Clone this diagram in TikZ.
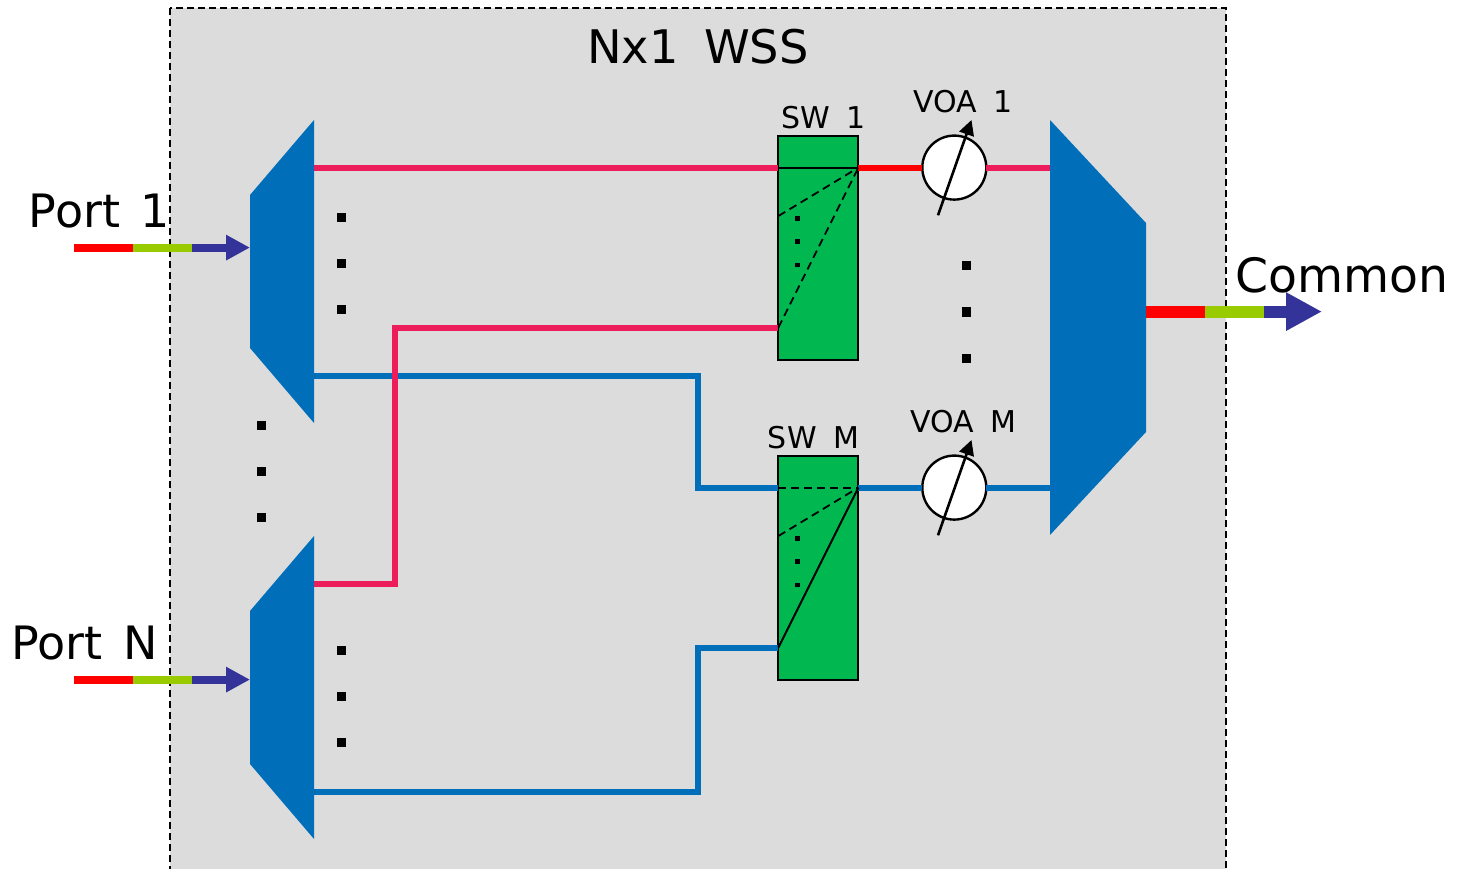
\documentclass[tikz,border=0pt]{standalone}
\usepackage{fontspec}
\setmainfont{DejaVu Sans}
\usetikzlibrary{arrows.meta}
\definecolor{panelgray}{HTML}{DCDCDC}
\definecolor{muxblue}{HTML}{006EB9}
\definecolor{fibpink}{HTML}{ED1C5B}
\definecolor{fibred}{HTML}{FF0000}
\definecolor{fibgreen}{HTML}{99CC00}
\definecolor{fibviolet}{HTML}{333399}
\definecolor{swgreen}{HTML}{00B84F}
\tikzset{
  x=1pt,y=-1pt,
  mux/.style={fill=muxblue,draw=none},
  pinkfib/.style={draw=fibpink,line width=6pt},
  bluefib/.style={draw=muxblue,line width=6pt},
  swbox/.style={draw=black,line width=2pt,fill=swgreen,minimum width=80pt,minimum height=224pt,inner sep=0pt,outer sep=0pt},
  voa/.style={circle,draw=black,line width=2.4pt,fill=white,minimum size=64pt,inner sep=0pt,outer sep=0pt},
  voaarrow/.style={draw=black,line width=2.6pt,-{Triangle[length=15pt,width=15pt]}},
  bigdot/.style={fill=black,inner sep=0pt,minimum size=9pt},
  smalldot/.style={fill=black,inner sep=0pt,minimum size=4.5pt},
  inner/.style={draw=black,line width=2pt},
  innerd/.style={draw=black,line width=1.8pt,dash pattern=on 8pt off 5pt},
  lblbig/.style={font=\fontsize{46.3}{46}\selectfont,inner sep=0pt,text=black},
  lblmid/.style={font=\fontsize{46}{46}\selectfont,inner sep=0pt,text=black},
  lblcom/.style={font=\fontsize{47.3}{47}\selectfont,inner sep=0pt,text=black},
  lblsm/.style={font=\fontsize{30}{30}\selectfont,inner sep=0pt,text=black},
}
\newcommand{\gapw}{\hspace{0.55em}}
\newcommand{\gapn}{\hspace{0.45em}}
\begin{document}
\begin{tikzpicture}
\useasboundingbox (0,0) rectangle (1460,869);
\begin{scope}
\clip (0,0) rectangle (1460,869);
\draw[fill=panelgray,draw=black,line width=1.5pt,dash pattern=on 7pt off 4pt] (170,8) rectangle (1226,900);
\end{scope}
\node[lblbig,anchor=center] (title) at (698,47) {Nx1\gapw WSS};

% coordinates
\coordinate (d1o1) at (314,167.6);
\coordinate (d1o2) at (314,375.6);
\coordinate (dNo1) at (314,583.6);
\coordinate (dNo2) at (314,791.6);
\coordinate (d1i) at (250,247.6);
\coordinate (dNi) at (250,679.6);
\coordinate (mi1) at (1050,167.6);
\coordinate (miM) at (1050,487.6);
\coordinate (mo) at (1146,311.6);
\coordinate (p1s) at (74,247.6);
\coordinate (p1a) at (133,247.6);
\coordinate (p1b) at (192,247.6);
\coordinate (pNs) at (74,679.6);
\coordinate (pNa) at (133,679.6);
\coordinate (pNb) at (192,679.6);
\coordinate (ca) at (1205,311.6);
\coordinate (cb) at (1264,311.6);
\coordinate (ce) at (1322,311.6);

\node[swbox] (sw1) at (818.4,247.8) {};
\node[swbox] (swM) at (818.4,567.8) {};
\node[voa] (voa1) at (954.3,167.6) {};
\node[voa] (voaM) at (954.3,487.6) {};

\coordinate (s1a) at (778.4,167.6);
\coordinate (s1b) at (778.4,327.6);
\coordinate (s1c) at (778.4,216);
\coordinate (s1o) at (858.4,167.6);
\coordinate (sMa) at (778.4,487.6);
\coordinate (sMb) at (778.4,647.6);
\coordinate (sMc) at (778.4,536);
\coordinate (sMo) at (858.4,487.6);

% fibres
\draw[bluefib] (d1o2) -- (698,375.6) -- (698,487.6) -- (sMa);
\draw[bluefib] (dNo2) -- (698,791.6) -- (698,647.6) -- (sMb);
\draw[pinkfib] (d1o1) -- (s1a);
\draw[pinkfib] (dNo1) -- (394.5,583.6) -- (394.5,327.6) -- (s1b);
\draw[line width=6pt,draw=fibred] (s1o) -- (voa1.west);
\draw[pinkfib] (voa1.east) -- (mi1);
\draw[bluefib] (sMo) -- (voaM.west);
\draw[bluefib] (voaM.east) -- (miM);

% multiplexers
\fill[mux] (250,195) -- (314,120) -- (314,423) -- (250,348) -- cycle;
\fill[mux] (250,611) -- (314,536) -- (314,839) -- (250,764) -- cycle;
\fill[mux] (1050,120) -- (1146,223) -- (1146,432) -- (1050,535) -- cycle;

% switch internals
\draw[inner] (s1a) -- (s1o);
\draw[innerd] (s1c) -- (s1o);
\draw[innerd] (s1b) -- (s1o);
\draw[innerd] (sMa) -- (sMo);
\draw[innerd] (sMc) -- (sMo);
\draw[inner] (sMb) -- (sMo);

% VOA pointers
\coordinate (v1s) at (938,215.3);
\coordinate (v1e) at (971.5,120);
\coordinate (vMs) at (938,535.3);
\coordinate (vMe) at (971.5,440);
\draw[voaarrow] (v1s) -- (v1e);
\draw[voaarrow] (vMs) -- (vMe);

% port arrows
\draw[line width=8pt,draw=fibred] (p1s) -- (p1a);
\draw[line width=8pt,draw=fibgreen] (p1a) -- (p1b);
\draw[line width=8pt,draw=fibviolet,-{Triangle[length=24pt,width=24pt]}] (p1b) -- (d1i);
\draw[line width=8pt,draw=fibred] (pNs) -- (pNa);
\draw[line width=8pt,draw=fibgreen] (pNa) -- (pNb);
\draw[line width=8pt,draw=fibviolet,-{Triangle[length=24pt,width=24pt]}] (pNb) -- (dNi);
\draw[line width=12pt,draw=fibred] (mo) -- (ca);
\draw[line width=12pt,draw=fibgreen] (ca) -- (cb);
\draw[line width=12pt,draw=fibviolet,-{Triangle[length=36pt,width=36pt]}] (cb) -- (ce);

% dots
\foreach \n/\px/\py in {a/341/217.5,b/341/263.5,c/341/309.5,d/341/650,e/341/696,f/341/742,g/261/425,h/261/471,i/261/517,j/966.5/266,k/966.5/312,l/966.5/358}
  \node[bigdot] (dot\n) at (\px,\py) {};
\foreach \n/\py in {a/218.5,b/241.5,c/265,d/538.5,e/561.5,f/585}
  \node[smalldot] (sdot\n) at (797.3,\py) {};

% labels
\node[lblmid,anchor=center] (lp1) at (99.5,211) {Port\gapn 1};
\node[lblmid,anchor=center] (lpN) at (84.5,643) {Port\gapn N};
\node[lblcom,anchor=center] (lc) at (1342,275) {Common};
\node[lblsm,anchor=center] (ls1) at (823.5,118) {SW\gapw 1};
\node[lblsm,anchor=center] (lsM) at (813.5,438) {SW\gapw M};
\node[lblsm,anchor=center] (lv1) at (963.5,102) {VOA\gapw 1};
\node[lblsm,anchor=center] (lvM) at (963.5,422) {VOA\gapw M};
\end{tikzpicture}
\end{document}
